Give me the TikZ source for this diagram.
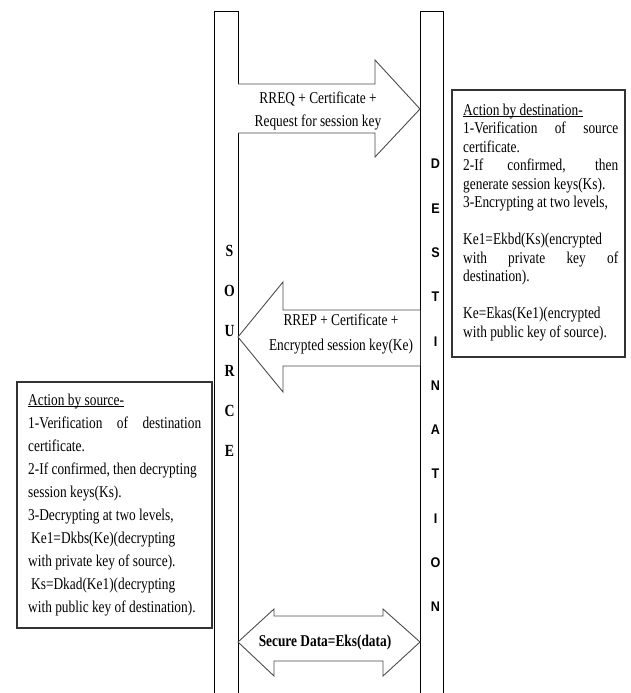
\documentclass[tikz,border=0pt]{standalone}
\usepackage{fontspec}
\newfontfamily\tnr[FakeStretch=0.81]{Liberation Serif}
\newfontfamily\ari[FakeStretch=0.9]{Liberation Sans}
\newcommand\myul[1]{\setbox0\hbox{#1}\rlap{\rule[-2.2pt]{\wd0}{0.8pt}}\box0}
\tikzset{
  col/.style={draw=black, line width=1pt},
  arr/.style={draw=black!70, line width=0.9pt, fill=white, line join=miter},
  abox/.style={draw=black!80, line width=1.3pt},
  txt/.style={inner sep=0pt, anchor=base west, font=\tnr\fontsize{16.5}{18}\selectfont},
  atxt/.style={inner sep=0pt, anchor=base, font=\tnr\fontsize{16.5}{18}\selectfont},
  sl/.style={inner sep=0pt, anchor=center, font=\tnr\bfseries\fontsize{17}{18}\selectfont},
  dl/.style={inner sep=0pt, anchor=center, font=\ari\bfseries\fontsize{14}{16}\selectfont},
}
\begin{document}
\begin{tikzpicture}[x=1pt,y=-1pt]
\useasboundingbox (0,0) rectangle (631,693);
% columns
\draw[col] (214,693) -- (214,12) -- (238,12) -- (238,693);
\draw[col] (420,693) -- (420,12) -- (443,12) -- (443,693);
% arrow RREQ
\draw[arr] (238,84) -- (375,84) -- (375,60) -- (420,109) -- (375,157) -- (375,133) -- (238,133);
\node[atxt] (q1) at (318,103) {RREQ + Certificate +};
\node[atxt] (q2) at (318,126) {Request for session key};
% arrow RREP
\draw[arr] (420,310) -- (283,310) -- (283,282) -- (238,337) -- (283,392) -- (283,366) -- (420,366);
\node[atxt] (p1) at (341,325) {RREP + Certificate +};
\node[atxt] (p2) at (341,350) {Encrypted session key(Ke)};
% double arrow
\draw[arr] (274,616) -- (383,616) -- (383,609) -- (420,642) -- (383,676) -- (383,661) -- (274,661) -- (274,676) -- (238,642) -- (274,609) -- cycle;
\node[atxt, font=\tnr\bfseries\fontsize{16.5}{18}\selectfont] (sd) at (325,646) {Secure Data=Eks(data)};
% source letters
\foreach \c [count=\i from 0] in {S,O,U,R,C,E}
  \node[sl] (s\i) at (229.5,251+40*\i) {\c};
% destination letters
\foreach \c [count=\i from 0] in {D,E,S,T,I,N,A,T,I,O,N}
  \node[dl] (d\i) at (435.5,164+44.3*\i) {\c};
% right box
\draw[abox] (452,90) rectangle (625,357);
\node[txt] (r1) at (463,115) {\myul{Action by destination-}};
\node[txt] (r2) at (463,133.5) {\makebox[155pt][s]{1-Verification of source}};
\node[txt] (r3) at (463,152) {certificate.};
\node[txt] (r4) at (463,170.5) {\makebox[155pt][s]{2-If confirmed, then}};
\node[txt] (r5) at (463,189) {generate session keys(Ks).};
\node[txt] (r6) at (463,207.5) {3-Encrypting at two levels,};
\node[txt] (r7) at (463,244.5) {Ke1=Ekbd(Ks)(encrypted};
\node[txt] (r8) at (463,263) {\makebox[155pt][s]{with private key of}};
\node[txt] (r9) at (463,281.5) {destination).};
\node[txt] (r10) at (463,318.5) {Ke=Ekas(Ke1)(encrypted};
\node[txt] (r11) at (463,337) {with public key of source).};
% left box
\draw[abox] (17,382) rectangle (212,628);
\node[txt] (l1) at (28,405) {\myul{Action by source-}};
\node[txt] (l2) at (28,428) {\makebox[173pt][s]{1-Verification of destination}};
\node[txt] (l3) at (28,451) {certificate.};
\node[txt] (l4) at (28,474) {2-If confirmed, then decrypting};
\node[txt] (l5) at (28,497) {session keys(Ks).};
\node[txt] (l6) at (28,520) {3-Decrypting at two levels,};
\node[txt] (l7) at (31,543) {Ke1=Dkbs(Ke)(decrypting};
\node[txt] (l8) at (28,566) {with private key of source).};
\node[txt] (l9) at (31,589) {Ks=Dkad(Ke1)(decrypting};
\node[txt] (l10) at (28,612) {with public key of destination).};
\end{tikzpicture}
\end{document}
